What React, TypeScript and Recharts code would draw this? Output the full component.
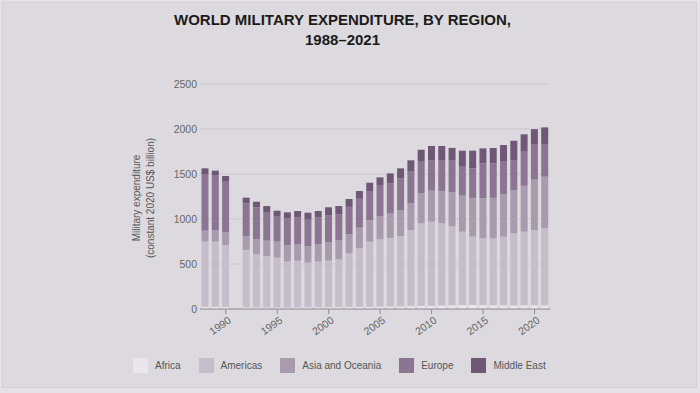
import { Bar, BarChart, CartesianGrid, XAxis, YAxis } from "recharts";

const years = [
  "1988", "1989", "1990", "1991", "1992", "1993", "1994", "1995", "1996", "1997", "1998",
  "1999", "2000", "2001", "2002", "2003", "2004", "2005", "2006", "2007", "2008", "2009",
  "2010", "2011", "2012", "2013", "2014", "2015", "2016", "2017", "2018", "2019", "2020", "2021",
];

// constant 2020 US$ billion (1991 has no data)
const africa = [
  25, 24, 22, null, 18, 18, 17, 17, 16, 17, 18, 19, 20, 21, 22, 23, 24, 26, 27, 29, 32, 34,
  35, 38, 40, 43, 45, 43, 42, 41, 40, 40, 41, 40,
];
const americas = [
  723, 724, 689, null, 638, 590, 572, 553, 510, 520, 497, 507, 517, 531, 597, 651, 724, 749,
  763, 781, 846, 918, 935, 914, 878, 816, 759, 742, 743, 763, 801, 819, 837, 856,
];
const asiaOceania = [
  122, 127, 141, null, 155, 165, 170, 180, 185, 185, 185, 195, 205, 210, 214, 230, 240, 255,
  270, 290, 300, 333, 345, 360, 380, 400, 430, 445, 450, 470, 480, 510, 560, 574,
];
const europe = [
  630, 607, 563, null, 363, 357, 311, 276, 299, 298, 300, 299, 302, 288, 302, 321, 316, 348,
  336, 352, 348, 352, 340, 343, 357, 322, 329, 388, 383, 363, 334, 379, 395, 363,
];
const middleEast = [
  63, 55, 63, null, 63, 62, 74, 66, 64, 69, 70, 69, 86, 94, 87, 86, 99, 85, 111, 111, 126,
  133, 156, 156, 135, 178, 196, 167, 171, 185, 215, 193, 165, 185,
];

const yTicks = [0, 500, 1000, 1500, 2000, 2500];

const series = [
  { key: "africa", name: "Africa", color: "#e9e6ed" },
  { key: "americas", name: "Americas", color: "#c6bdca" },
  { key: "asia", name: "Asia and Oceania", color: "#a99bae" },
  { key: "europe", name: "Europe", color: "#8c7592" },
  { key: "middleEast", name: "Middle East", color: "#6e5876" },
];

const data = years.map((year, i) => ({
  year,
  africa: africa[i],
  americas: americas[i],
  asia: asiaOceania[i],
  europe: europe[i],
  middleEast: middleEast[i],
}));

const font = "'Liberation Sans', Arial, sans-serif";

function YearTick(props: any) {
  const { x, y, payload } = props;
  if (Number(payload.value) % 5 !== 0) return <g />;
  return (
    <g>
      <line x1={x} x2={x} y1={y} y2={y + 5} stroke="#8e8c92" />
      <text
        x={x + 6}
        y={y + 13}
        textAnchor="end"
        fontSize={10.5}
        fill="#666"
        fontFamily={font}
        transform={`rotate(-35 ${x + 6} ${y + 13})`}
      >
        {payload.value}
      </text>
    </g>
  );
}

export default function App() {
  return (
    <div
      style={{
        position: "absolute",
        left: 0,
        top: 0,
        width: 700,
        height: 393,
        background: "#e4e2e7",
        fontFamily: font,
        overflow: "hidden",
      }}
    >
      <div
        style={{
          position: "absolute",
          left: 2,
          top: 2,
          width: 693,
          height: 384,
          border: "1px solid #d2d0d6",
          background: "#dcdadf",
        }}
      />
      <div
        style={{
          position: "absolute",
          left: 0,
          top: 10,
          width: 685,
          textAlign: "center",
          fontSize: 15,
          lineHeight: "20px",
          fontWeight: 700,
          color: "#1b1b1b",
        }}
      >
        WORLD MILITARY EXPENDITURE, BY REGION,
        <br />
        1988–2021
      </div>
      <div
        style={{
          position: "absolute",
          left: 44,
          top: 184,
          width: 200,
          height: 28,
          textAlign: "center",
          fontSize: 10,
          lineHeight: "14px",
          color: "#555",
          transform: "rotate(-90deg)",
        }}
      >
        Military expenditure
        <br />
        (constant 2020 US$ billion)
      </div>
      <div style={{ position: "absolute", left: 0, top: 0 }}>
        <BarChart
          width={700}
          height={393}
          data={data}
          margin={{ top: 84, right: 150, bottom: 54, left: 170 }}
          barCategoryGap={1.5}
        >
          <CartesianGrid vertical={false} stroke="#cbc8ce" />
          <XAxis
            dataKey="year"
            height={30}
            interval={0}
            tickLine={false}
            tickSize={0}
            tickMargin={0}
            axisLine={{ stroke: "#8e8c92" }}
            tick={<YearTick />}
          />
          <YAxis
            width={30}
            domain={[0, 2500]}
            ticks={yTicks}
            axisLine={false}
            tickLine={false}
            tickSize={0}
            tickMargin={3}
            tick={{ fontSize: 10.5, fill: "#666", fontFamily: font }}
          />
          {series.map((s) => (
            <Bar
              key={s.key}
              dataKey={s.key}
              name={s.name}
              stackId="total"
              fill={s.color}
              isAnimationActive={false}
            />
          ))}
        </BarChart>
      </div>
      <div
        style={{
          position: "absolute",
          left: 133,
          top: 358,
          display: "flex",
          alignItems: "center",
          fontSize: 10,
          color: "#555",
        }}
      >
        {series.map((s) => (
          <div key={s.key} style={{ display: "flex", alignItems: "center", marginRight: 18 }}>
            <span
              style={{
                display: "inline-block",
                width: 15,
                height: 15,
                background: s.color,
                marginRight: 7,
              }}
            />
            {s.name}
          </div>
        ))}
      </div>
    </div>
  );
}
